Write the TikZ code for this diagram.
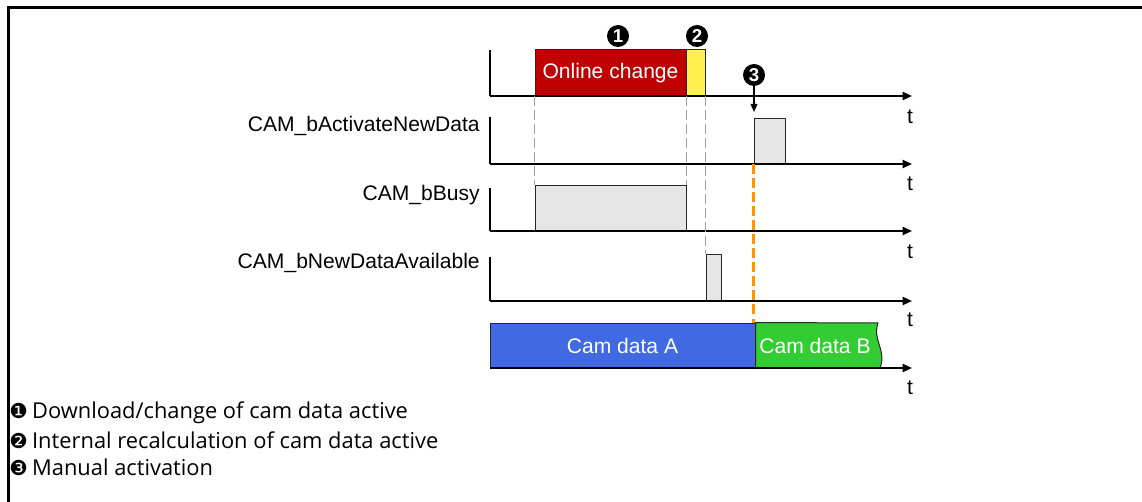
\documentclass[tikz,border=0pt]{standalone}
\usepackage{fontspec}
\setmainfont{Liberation Sans}
\newfontfamily\legfont{Open Sans}
\newfontfamily\symfont{DejaVu Sans}
\newcommand\legsym[1]{{\symfont\fontsize{15.5}{15}\selectfont #1}}
\usetikzlibrary{arrows.meta}
\definecolor{cred}{HTML}{C00000}
\definecolor{cyellow}{HTML}{FFF050}
\definecolor{cgray}{HTML}{E6E6E6}
\definecolor{cblue}{HTML}{4169E1}
\definecolor{cgreen}{HTML}{33CC33}
\definecolor{dgray}{HTML}{A0A0A0}
\definecolor{corng}{RGB}{255,150,0}
\begin{document}
\begin{tikzpicture}[x=0.75pt,y=-0.75pt,
  txt/.style={font=\fontsize{15.8}{18}\selectfont, inner sep=0pt},
  lbl/.style={txt, anchor=east},
  tlbl/.style={txt},
  box/.style={draw=black!85, line width=0.75pt, inner sep=0pt},
  axis/.style={line width=1.5pt, -{Triangle[length=7pt,width=6pt]}},
  vax/.style={line width=1.1pt},
  mk/.style={circle, fill=black, text=white, inner sep=0pt, minimum size=16.5pt, font=\bfseries\fontsize{14}{14}\selectfont},
  gdash/.style={color=dgray, line width=1pt, dash pattern=on 7pt off 3.5pt},
  odash/.style={draw=corng, line width=1.6pt, dash pattern=on 7pt off 3.5pt},
  leg/.style={anchor=west, inner sep=0pt, font=\legfont\fontsize{16.4}{19}\selectfont}
]
\useasboundingbox (0,0) rectangle (1142,502);
\draw[line width=2.25pt] (8,502) -- (8,8) -- (1142,8);

% axis coordinates
\coordinate (v1t) at (490,50);  \coordinate (o1) at (490,96);  \coordinate (e1) at (912,96);
\coordinate (v2t) at (490,117); \coordinate (o2) at (490,164); \coordinate (e2) at (912,164);
\coordinate (v3t) at (490,188); \coordinate (o3) at (490,231); \coordinate (e3) at (912,231);
\coordinate (v4t) at (490,257); \coordinate (o4) at (490,301); \coordinate (e4) at (912,301);
\coordinate (o5) at (490,368);  \coordinate (e5) at (912,368);

% boxes
\node[box, fill=cred, minimum width=113.25pt, minimum height=34.5pt, text=white, txt] (red) at (610.5,73) {Online change};
\node[box, fill=cyellow, minimum width=14.25pt, minimum height=34.5pt] (yel) at (695.5,73) {};
\node[box, fill=cgray, minimum width=23.25pt, minimum height=33.75pt] (act) at (769.5,141.5) {};
\node[box, fill=cgray, minimum width=113.25pt, minimum height=33.75pt] (busy) at (610.5,208.5) {};
\node[box, fill=cgray, minimum width=11.25pt, minimum height=34.5pt] (nda) at (713.5,278) {};
\node[box, fill=cblue, minimum width=198.75pt, minimum height=33.75pt, text=white, txt] (camA) at (622.5,345.5) {Cam data A};
\draw[box, fill=cgreen] (camA.north east) -- (878,323) .. controls (872,340) and (887,350) .. (880,368) -- (camA.south east) -- cycle;
\node[txt, text=white] (camB) at (815,345.5) {Cam data B};

% axes
\draw[vax] (v1t) -- (o1);
\draw[vax] (v2t) -- (o2);
\draw[vax] (v3t) -- (o3);
\draw[vax] (v4t) -- (o4);
\draw[axis] (o1) -- (e1);
\draw[axis] (o2) -- (e2);
\draw[axis] (o3) -- (e3);
\draw[axis] (o4) -- (e4);
\draw[axis] (o5) -- (e5);

\node[tlbl] (t1) at (910,117) {t};
\node[tlbl] (t2) at (910,184) {t};
\node[tlbl] (t3) at (910,252) {t};
\node[tlbl] (t4) at (910,320) {t};
\node[tlbl] (t5) at (910,388) {t};

% signal labels
\node[lbl] (l2) at (480,126) {CAM\_bActivateNewData};
\node[lbl] (l3) at (480,195) {CAM\_bBusy};
\node[lbl] (l4) at (480,263) {CAM\_bNewDataAvailable};

% dashed guides
\draw[gdash] (red.south west) -- (busy.north west);
\draw[gdash] (red.south east) -- (busy.north east);
\draw[gdash] (yel.south east) -- (nda.north west -| yel.south east);
\draw[odash] (act.south west) -- (act.south west |- camA.north east);

% markers
\node[mk] (m1) at (618,36) {1};
\node[mk] (m2) at (697,36) {2};
\node[mk] (m3) at (754,75) {3};
\coordinate (m3e) at (754,112);
\draw[line width=1pt, -{Triangle[length=6pt,width=5pt]}] (m3) -- (m3e);

% legend
\node[leg] (g1) at (9,413) {\legsym{❶}\hspace{-1pt} Download/change of cam data active};
\node[leg] (g2) at (9,440) {\legsym{❷}\hspace{-1pt} Internal recalculation of cam data active};
\node[leg] (g3) at (9,467) {\legsym{❸}\hspace{-1pt} Manual activation};
\end{tikzpicture}
\end{document}
